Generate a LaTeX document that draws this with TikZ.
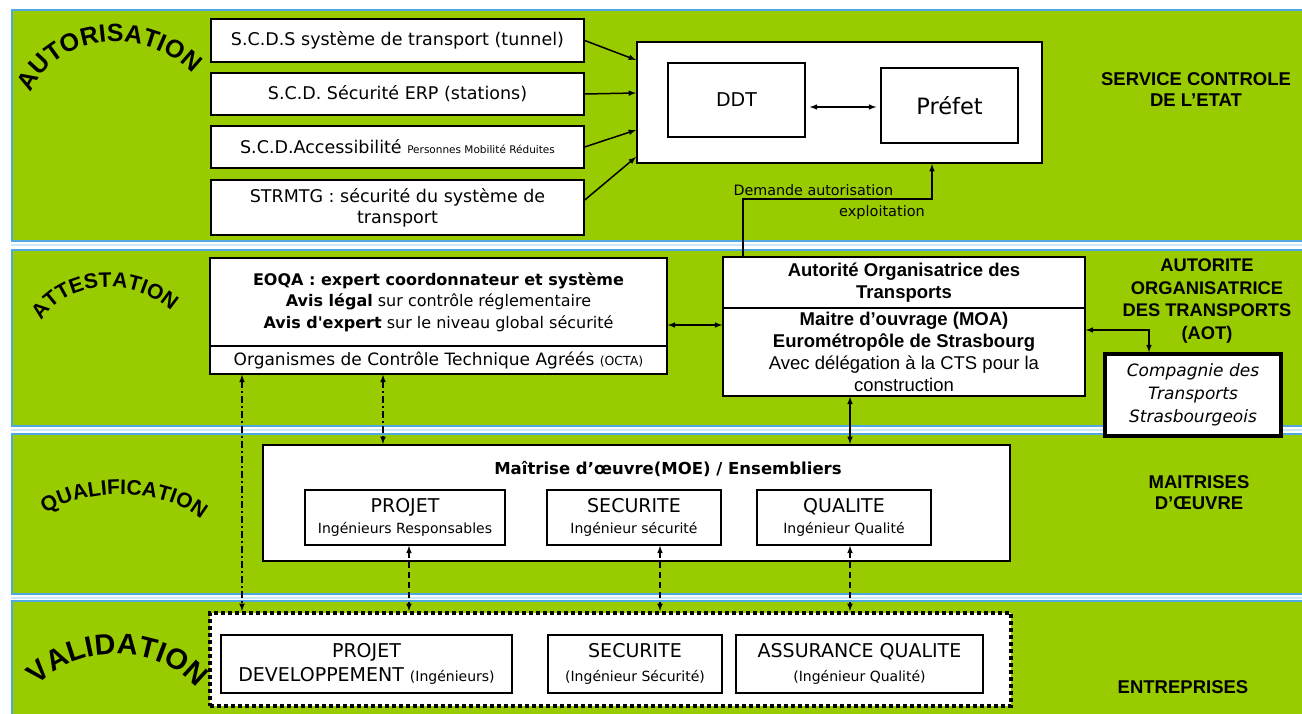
\documentclass[tikz,border=0pt]{standalone}
\usepackage{fontspec}
\setmainfont{Liberation Sans}
\newfontfamily\comic{DejaVu Sans}
\usetikzlibrary{decorations.text}
\definecolor{bandgreen}{HTML}{99CC00}
\definecolor{bandblue}{HTML}{4FA9E0}
\definecolor{paleblue}{HTML}{CFE8F7}

\tikzset{
  wbox/.style={draw=black, fill=white, line width=2pt, inner sep=0pt},
  sbox/.style={draw=black, fill=white, line width=1.5pt, inner sep=0pt, align=center,
    font=\comic\fontsize{17.5}{21}\selectfont},
  abox/.style={draw=black, fill=white, line width=1.5pt, inner sep=0pt, align=center,
    font=\fontsize{18.5}{22}\selectfont},
  tbox/.style={sbox, font=\comic\fontsize{19}{21}\selectfont},
  lbl/.style={align=center, font=\bfseries\fontsize{18.5}{21}\selectfont},
  arr/.style={line width=1.5pt, -latex},
  darr/.style={line width=1.5pt, latex-latex},
  ddline/.style={line width=1.5pt, latex-latex, dash pattern=on 7pt off 3pt on 2pt off 3pt},
  dline/.style={line width=1.5pt, latex-latex, dash pattern=on 6pt off 4pt}
}
\newcommand{\subtxt}{\fontsize{14}{16}\selectfont}

\begin{document}
\begin{tikzpicture}[x=1pt, y=-1pt]
    \useasboundingbox (0,0) rectangle (1302,714);
    \fill[white] (0,0) rectangle (1302,714);

    \fill[bandgreen] (12,10) rectangle (1310,241);
    \fill[bandgreen] (12,250) rectangle (1310,426);
    \fill[bandgreen] (12,434) rectangle (1310,594);
    \fill[bandgreen] (12,601) rectangle (1310,720);
    \draw[bandblue, line width=2pt] (1310,10) -- (12,10) -- (12,241) -- (1310,241);
    \draw[bandblue, line width=2pt] (1310,250) -- (12,250) -- (12,426) -- (1310,426);
    \draw[bandblue, line width=2pt] (1310,434) -- (12,434) -- (12,594) -- (1310,594);
    \draw[bandblue, line width=2pt] (1310,601) -- (12,601) -- (12,720);
    \draw[paleblue, line width=2pt] (11,245.5) -- (1302,245.5);
    \draw[paleblue, line width=2pt] (11,430) -- (1302,430);
    \draw[paleblue, line width=2pt] (11,597.5) -- (1302,597.5);

    \path[decorate, decoration={text along path, text align=center,
      text={|\bfseries\fontsize{25}{25}\selectfont|AUTORISATION}}]
      (28,100) .. controls (52,30) and (150,22) .. (198,80);
    \path[decorate, decoration={text along path, text align=center,
      text={|\bfseries\fontsize{21}{21}\selectfont|ATTESTATION}}]
      (36,332) .. controls (56,277) and (140,272) .. (180,320);
    \path[decorate, decoration={text along path, text align=center,
      text={|\bfseries\fontsize{21}{21}\selectfont|QUALIFICATION}}]
      (36,522) .. controls (72,486) and (170,482) .. (210,528);
    \path[decorate, decoration={text along path, text align=center,
      text={|\bfseries\fontsize{29}{29}\selectfont|VALIDATION}}]
      (30,697) .. controls (62,643) and (165,636) .. (205,699);

    \node[sbox, minimum width=373pt, minimum height=43pt] (scds) at (397.5,40.5) {S.C.D.S système de transport (tunnel)};
    \node[sbox, minimum width=373pt, minimum height=42pt] (erp) at (397.5,94) {S.C.D. Sécurité ERP (stations)};
    \node[sbox, minimum width=373pt, minimum height=42pt] (pmr) at (397.5,147) {S.C.D.Accessibilité {\fontsize{10.5}{12}\selectfont Personnes Mobilité Réduites}};
    \node[sbox, minimum width=373pt, minimum height=55pt] (strmtg) at (397.5,207.5) {STRMTG : sécurité du système de\\transport};

    \node[wbox, minimum width=405pt, minimum height=121pt] (etat) at (839.5,102.5) {};
    \node[sbox, minimum width=137pt, minimum height=74pt, font=\comic\fontsize{19}{22}\selectfont] (ddt) at (736.5,100) {DDT};
    \node[sbox, minimum width=137pt, minimum height=75pt, font=\comic\fontsize{22.5}{26}\selectfont] (prefet) at (949.5,105.5) {Préfet};
    \node[lbl] (etatlbl) at (1196,90) {SERVICE CONTROLE\\DE L’ETAT};

    \node[sbox, minimum width=457pt, minimum height=88pt, font=\comic\fontsize{16}{21.5}\selectfont] (eoqa) at (438.5,302)
      {\textbf{EOQA : expert coordonnateur et système}\\\textbf{Avis légal} sur contrôle réglementaire\\\textbf{Avis d'expert} sur le niveau global sécurité};
    \node[sbox, minimum width=457pt, minimum height=28pt, font=\comic\fontsize{17}{20}\selectfont] (octa) at (438.5,360) {Organismes de Contrôle Technique Agréés {\fontsize{12.5}{14}\selectfont(OCTA)}};

    \node[abox, minimum width=362pt, minimum height=51pt] (aot) at (904,282.5) {\textbf{Autorité Organisatrice des}\\\textbf{Transports}};
    \node[abox, minimum width=362pt, minimum height=88pt] (moa) at (904,352)
      {\textbf{Maitre d’ouvrage (MOA)}\\\textbf{Eurométropôle de Strasbourg}\\Avec délégation à la CTS pour la\\construction};
    \node[sbox, line width=3.5pt, minimum width=176pt, minimum height=82pt, font=\comic\itshape\fontsize{17}{23}\selectfont] (cts) at (1193,395)
      {Compagnie des\\Transports\\Strasbourgeois};
    \node[lbl, font=\bfseries\fontsize{18.3}{22.5}\selectfont] (aotlbl) at (1207,301) {AUTORITE\\ORGANISATRICE\\DES TRANSPORTS\\(AOT)};

    \node[wbox, minimum width=747pt, minimum height=116pt] (moe) at (636.5,503) {};
    \node[font=\comic\bfseries\fontsize{16.5}{20}\selectfont] (moetitle) at (668,469) {Maîtrise d’œuvre(MOE) / Ensembliers};
    \node[tbox, minimum width=200pt, minimum height=55pt] (projet) at (405,517.5) {PROJET\\{\subtxt Ingénieurs Responsables}};
    \node[tbox, minimum width=174pt, minimum height=55pt] (secu) at (634,517.5) {SECURITE\\{\subtxt Ingénieur sécurité}};
    \node[tbox, minimum width=174pt, minimum height=55pt] (qual) at (844,517.5) {QUALITE\\{\subtxt Ingénieur Qualité}};
    \node[lbl] (moelbl) at (1199,492.5) {MAITRISES\\D’ŒUVRE};

    \node[draw=black, fill=white, line width=4pt, dash pattern=on 4pt off 3pt, minimum width=801pt, minimum height=93pt] (valid) at (610.5,659.5) {};
    \node[tbox, minimum width=291pt, minimum height=58pt, font=\comic\fontsize{19}{24}\selectfont] (projdev) at (366.5,664) {PROJET\\DEVELOPPEMENT {\subtxt(Ingénieurs)}};
    \node[tbox, minimum width=174pt, minimum height=58pt, font=\comic\fontsize{19}{24}\selectfont] (secuval) at (635,664) {SECURITE\\{\subtxt(Ingénieur Sécurité)}};
    \node[tbox, minimum width=247pt, minimum height=58pt, font=\comic\fontsize{19}{24}\selectfont] (assur) at (859.5,664) {ASSURANCE QUALITE\\{\subtxt(Ingénieur Qualité)}};
    \node[lbl] (entlbl) at (1183,687) {ENTREPRISES};

    \node[anchor=base west, font=\comic\fontsize{14.3}{18}\selectfont] (dem) at (730,196) {Demande autorisation};
    \node[font=\comic\fontsize{14.5}{18}\selectfont] (expl) at (882,213) {exploitation};
    \coordinate (demup) at (743,199);
    \coordinate (demright) at (932,199);

    \draw[arr] (scds.east) -- (etat.west |- 0,60);
    \draw[arr] (erp.east) -- (etat.west |- 0,93);
    \draw[arr] (pmr.east) -- (etat.west |- 0,130);
    \draw[arr] (strmtg.east |- 0,200) -- (etat.west |- 0,157);
    \draw[darr, shorten <=4pt, shorten >=4pt] (ddt.east |- 0,107) -- (prefet.west |- 0,107);
    \draw[arr] (aot.north -| demup) -- (demup) -- (demright) -- (etat.south -| demright);

    \draw[darr] (eoqa.east |- 0,325) -- (moa.west |- 0,325);
    \draw[darr] (moa.east |- 0,330) -| (cts.north -| 1149,0);
    \draw[darr] (moa.south -| 850,0) -- (moe.north -| 850,0);

    \draw[ddline] (octa.south -| 242,0) -- (valid.north -| 242,0);
    \draw[ddline] (octa.south -| 383,0) -- (moe.north -| 383,0);
    \draw[dline] (projet.south -| 409,0) -- (valid.north -| 409,0);
    \draw[dline] (secu.south -| 660,0) -- (valid.north -| 660,0);
    \draw[dline] (qual.south -| 850,0) -- (valid.north -| 850,0);

\end{tikzpicture}
\end{document}
